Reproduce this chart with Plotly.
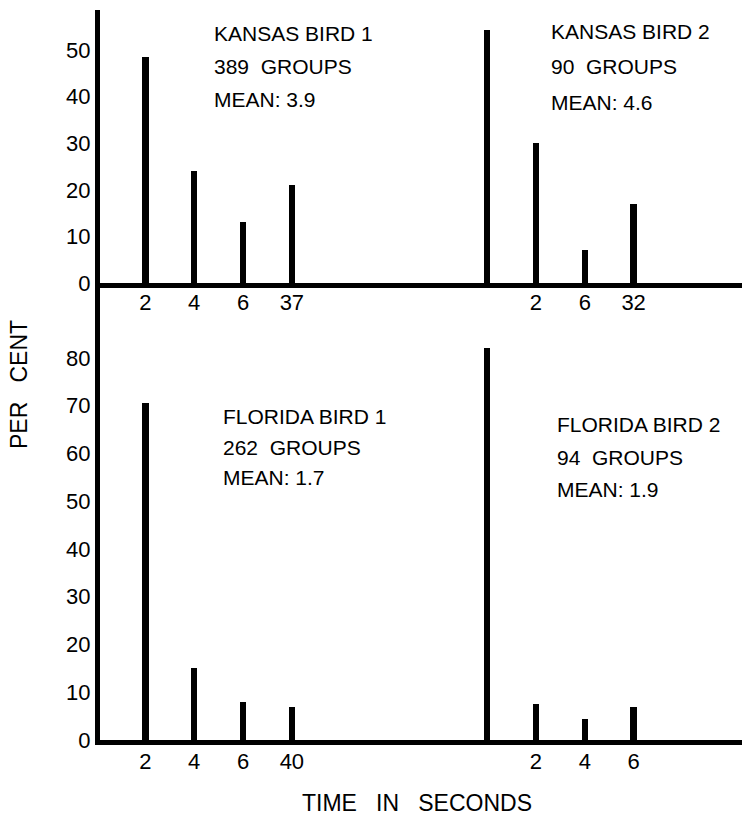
import plotly.graph_objects as go

# ---------------- data ----------------
slots_bird1 = [1, 2, 3, 4]
slots_bird2 = [8, 9, 10, 11]

kansas_bird1 = [48.5, 24, 13, 21]
kansas_bird2 = [54.3, 30, 7, 17]
florida_bird1 = [70.5, 15, 8, 7]
florida_bird2 = [82, 7.5, 4.5, 7]

top_tick_slots = [1, 2, 3, 4, 9, 10, 11]
top_tick_text = ["2", "4", "6", "37", "2", "6", "32"]
bottom_tick_slots = [1, 2, 3, 4, 9, 10, 11]
bottom_tick_text = ["2", "4", "6", "40", "2", "4", "6"]

top_y_ticks = [0, 10, 20, 30, 40, 50]
bottom_y_ticks = [0, 10, 20, 30, 40, 50, 60, 70, 80]

kansas1_text = ["KANSAS BIRD 1", "389  GROUPS", "MEAN: 3.9"]
kansas2_text = ["KANSAS BIRD 2", "90  GROUPS", "MEAN: 4.6"]
florida1_text = ["FLORIDA BIRD 1", "262  GROUPS", "MEAN: 1.7"]
florida2_text = ["FLORIDA BIRD 2", "94  GROUPS", "MEAN: 1.9"]

# ---------------- layout helpers ----------------
W, H = 742, 817
L, R, T, B = 100, 0, 10, 77
PW, PH = W - L - R, H - T - B
FONT = "Liberation Sans, Arial, sans-serif"


def px_x(px):
    return (px - L) / PW


def px_y(py):
    return (H - B - py) / PH


split = px_y(283)

fig = go.Figure()
bar_w = 0.13
for xs, ys, xa, ya in [
    (slots_bird1, kansas_bird1, "x", "y"),
    (slots_bird2, kansas_bird2, "x", "y"),
    (slots_bird1, florida_bird1, "x2", "y2"),
    (slots_bird2, florida_bird2, "x2", "y2"),
]:
    fig.add_trace(go.Bar(x=xs, y=ys, width=bar_w, xaxis=xa, yaxis=ya,
                         marker=dict(color="black", line=dict(width=0)),
                         showlegend=False, hoverinfo="x+y"))

axis_common = dict(showline=True, linewidth=5, linecolor="black", showgrid=False,
                   zeroline=False, ticks="", tickfont=dict(family=FONT, size=22, color="black"))

xr = [0.07, 13.22]
fig.update_layout(
    width=W, height=H,
    margin=dict(l=L, r=R, t=T, b=B),
    paper_bgcolor="white", plot_bgcolor="white",
    bargap=0,
    xaxis=dict(domain=[0, 1], anchor="y", range=xr, tickmode="array", ticklabelstandoff=-4,
               tickvals=top_tick_slots, ticktext=top_tick_text, **axis_common),
    yaxis=dict(domain=[split, 1], anchor="x", range=[0, 58.6], tickmode="array",
               tickvals=top_y_ticks, **axis_common),
    xaxis2=dict(domain=[0, 1], anchor="y2", range=xr, tickmode="array", ticklabelstandoff=-2,
                tickvals=bottom_tick_slots, ticktext=bottom_tick_text, **axis_common),
    yaxis2=dict(domain=[0, split], anchor="x2", range=[0, 95.7], tickmode="array",
                tickvals=bottom_y_ticks, **axis_common),
)

annotations = []


def add_block(lines, x_px, y_pxs):
    for txt, ypx in zip(lines, y_pxs):
        annotations.append(dict(text=txt, x=px_x(x_px), y=px_y(ypx), xref="paper", yref="paper",
                                xanchor="left", yanchor="middle", showarrow=False,
                                font=dict(family=FONT, size=21, color="black")))


add_block(kansas1_text, 212, [33, 67, 99])
add_block(kansas2_text, 549, [32, 66, 102])
add_block(florida1_text, 221, [416, 447, 477])
add_block(florida2_text, 555, [424, 457, 489])

annotations.append(dict(text="PER   CENT", x=px_x(19), y=px_y(385), xref="paper", yref="paper",
                        xanchor="center", yanchor="middle", textangle=-90, showarrow=False,
                        font=dict(family=FONT, size=23, color="black")))
annotations.append(dict(text="TIME   IN   SECONDS", x=px_x(417), y=px_y(803), xref="paper", yref="paper",
                        xanchor="center", yanchor="middle", showarrow=False,
                        font=dict(family=FONT, size=23, color="black")))

fig.update_layout(annotations=annotations)

fig.write_html("out.html")
